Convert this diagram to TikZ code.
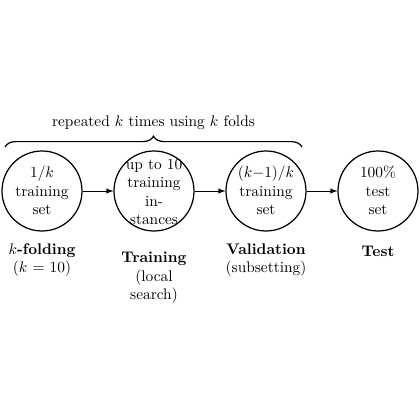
\documentclass[tikz,border=0pt]{standalone}
\usetikzlibrary{decorations.pathreplacing,arrows}
\begin{document}
\begin{tikzpicture}[x=0.65pt,y=-0.65pt,
  circ/.style={circle,draw,thick,minimum size=52pt,inner sep=0pt},
  intext/.style={align=center,inner sep=0pt},
  lbl/.style={align=center,inner sep=0pt},
  flow/.style={-latex,semithick}]
\useasboundingbox (0,0) rectangle (420,420);
\node[circ] (c1) at (42,191) {};
\node[circ] (c2) at (154,191) {};
\node[circ] (c3) at (266,191) {};
\node[circ] (c4) at (378,191) {};
\node[intext] (t1) at (42,190.5) {$1/k$\\training\\set};
\node[intext] (t2) at (154,192) {up to 10\\training\\in-\\stances};
\node[intext] (t3) at (266,190.5) {$(k{-}1)/k$\\training\\set};
\node[intext] (t4) at (378,190.5) {100\%\\test\\set};
\draw[flow] (c1) -- (c2);
\draw[flow] (c2) -- (c3);
\draw[flow] (c3) -- (c4);
\coordinate (bl) at (5,147);
\coordinate (br) at (302,147);
\draw[thick,decorate,decoration={brace,amplitude=7pt}] (bl) -- (br);
\node[lbl] (rep) at (153.5,123) {repeated $k$ times using $k$ folds};
\node[lbl] (l1) at (42,260) {\textbf{$k$-folding}\\($k$ = 10)};
\node[lbl] (l2) at (154,278) {\textbf{Training}\\(local\\search)};
\node[lbl] (l3) at (266,260) {\textbf{Validation}\\(subsetting)};
\node[lbl] (l4) at (378,251) {\textbf{Test}};
\end{tikzpicture}
\end{document}
